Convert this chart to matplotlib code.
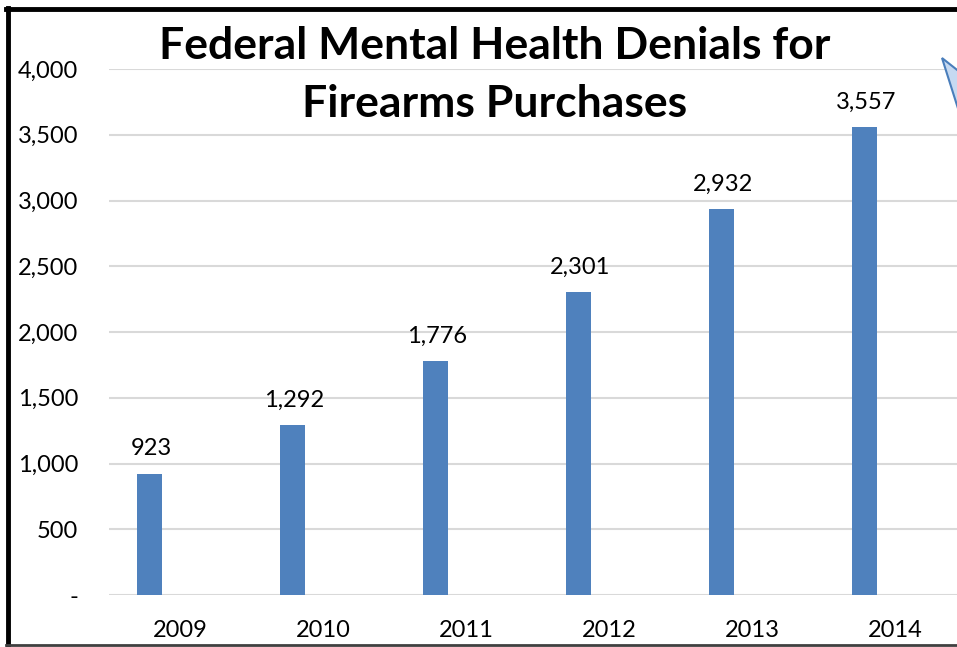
import numpy as np
import matplotlib
matplotlib.use('Agg')
import matplotlib.pyplot as plt
from matplotlib.lines import Line2D
from matplotlib.patches import Polygon

YEARS = ['2009', '2010', '2011', '2012', '2013', '2014']
DENIALS = [923, 1292, 1776, 2301, 2932, 3557]
Y_TICKS = [0, 500, 1000, 1500, 2000, 2500, 3000, 3500, 4000]
Y_TICK_LABELS = ['-', '500', '1,000', '1,500', '2,000', '2,500', '3,000', '3,500', '4,000']
TITLE = ['Federal Mental Health Denials for', 'Firearms Purchases']

plt.rcParams['font.family'] = ['Lato', 'DejaVu Sans']

W, H = 957, 647
fig = plt.figure(figsize=(W / 100, H / 100), dpi=100)
ax = fig.add_axes([108.5 / W, (H - 595) / H, 858 / W, 526 / H])

x = np.arange(len(YEARS))
ax.bar(x - 0.213, DENIALS, width=0.175, color='#4F81BD', zorder=3)
for xi, v in zip(x, DENIALS):
    ax.text(xi - 0.2, v + 110, f'{v:,}', ha='center', va='bottom', fontsize=17, color='black')

ax.set_xlim(-0.5, 5.5)
ax.set_ylim(0, 4000)
ax.set_xticks(x)
ax.set_xticklabels(YEARS, fontsize=17)
ax.set_yticks(Y_TICKS)
ax.set_yticklabels(Y_TICK_LABELS, fontsize=17)
ax.tick_params(axis='both', length=0)
ax.tick_params(axis='y', pad=22)
ax.tick_params(axis='x', pad=18)
ax.grid(axis='y', color='#D9D9D9', linewidth=1.5, zorder=0)
for s in ax.spines.values():
    s.set_visible(False)

# title
fig.text(495 / W, 1 - 46 / H, TITLE[0], ha='center', va='center', fontsize=32, fontweight='bold')
fig.text(495 / W, 1 - 104 / H, TITLE[1], ha='center', va='center', fontsize=32, fontweight='bold')

# callout pointer at top right
tri = Polygon([(942 / W, 1 - 58 / H), (980 / W, 1 - 88 / H), (968 / W, 1 - 140 / H)],
              closed=True, transform=fig.transFigure, facecolor='#C6D9F1',
              edgecolor='#4A7EBB', linewidth=1.5, zorder=5)
fig.patches.append(tri)

# outer frame
fig.add_artist(Line2D([8 / W, 8 / W], [0, 1 - 8 / H], color='black', linewidth=3.5))
fig.add_artist(Line2D([6 / W, 1], [1 - 9 / H, 1 - 9 / H], color='black', linewidth=3.5))
fig.add_artist(Line2D([6 / W, 1], [2 / H, 2 / H], color='#404040', linewidth=2))

fig.savefig('out.png', dpi=100)
